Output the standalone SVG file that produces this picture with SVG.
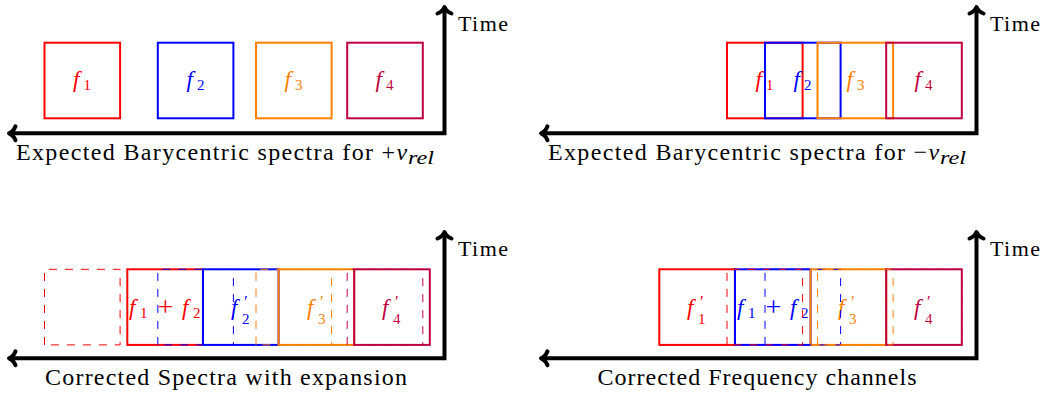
<svg xmlns="http://www.w3.org/2000/svg" width="1047" height="394" viewBox="0 0 1047 394" font-family="'Liberation Serif', 'DejaVu Serif', serif">
<defs>
<style>
.ax{fill:none;stroke:#000;stroke-width:4;stroke-linejoin:miter;marker-start:url(#tip);marker-end:url(#tip)}
.box{fill:none;stroke-width:2}
.dash{fill:none;stroke-width:1;stroke-dasharray:8 8}
.r{stroke:#ff0000}.b{stroke:#0000ff}.o{stroke:#ff8000}.p{stroke:#bf0040}
.tr{fill:#ff0000}.tb{fill:#0000ff}.to{fill:#ff8000}.tp{fill:#bf0040}
text{font-family:'Liberation Serif','DejaVu Serif',serif}
.cap{font-size:24px;fill:#000}
.time{font-size:22px;fill:#000}
.m{font-size:23px}
.i{font-style:italic}
.s{font-size:15px;font-style:normal}
.pr{font-size:17px;font-style:normal}
.pl{font-size:28px;font-style:normal}
.sub{font-size:18px;font-style:italic}
</style>
<marker id="tip" viewBox="-10 -10 12 20" refX="0" refY="0" markerWidth="12" markerHeight="20" markerUnits="userSpaceOnUse" orient="auto-start-reverse" overflow="visible">
<path d="M-6.5,-7 C-5,-3 -2,-0.8 0,0 C-2,0.8 -5,3 -6.5,7" fill="none" stroke="#000" stroke-width="4" stroke-linecap="round" stroke-linejoin="round"/>
</marker>
</defs>

<g id="connectors">
<path class="ax" d="M9,133.3 H444.5 V7"/>
<path class="ax" d="M541,133.3 H976.5 V7"/>
<path class="ax" d="M9,358.3 H444.5 V232"/>
<path class="ax" d="M541,358.3 H976.5 V232"/>
</g>

<!-- Panel 1 -->
<g id="p1-f1"><rect class="box r" x="44.5" y="42.7" width="75.6" height="75.6"/>
<text class="m tr"><tspan class="i" x="73" y="87">f</tspan><tspan class="s" x="83.5" y="90">1</tspan></text></g>
<g id="p1-f2"><rect class="box b" x="157.8" y="42.7" width="75.6" height="75.6"/>
<text class="m tb"><tspan class="i" x="186.5" y="87">f</tspan><tspan class="s" x="197" y="90">2</tspan></text></g>
<g id="p1-f3"><rect class="box o" x="256" y="42.7" width="75.6" height="75.6"/>
<text class="m to"><tspan class="i" x="284.5" y="87">f</tspan><tspan class="s" x="295" y="90">3</tspan></text></g>
<g id="p1-f4"><rect class="box p" x="347.2" y="42.7" width="75.6" height="75.6"/>
<text class="m tp"><tspan class="i" x="375.5" y="87">f</tspan><tspan class="s" x="386" y="90">4</tspan></text></g>
<g id="p1-labels">
<text class="time" x="458" y="30.5" textLength="50" lengthAdjust="spacing">Time</text>
<text class="cap"><tspan x="16" y="159.5" textLength="357" lengthAdjust="spacing">Expected Barycentric spectra for</tspan><tspan x="381.5" y="159.5">+</tspan><tspan class="i" x="396.5" y="159.5">v</tspan></text>
<text class="sub" x="408" y="163.5" textLength="26" lengthAdjust="spacingAndGlyphs">rel</text>
</g>

<!-- Panel 2 -->
<g id="p2-f1"><rect class="box r" x="727" y="42.7" width="75.6" height="75.6"/>
<text class="m tr"><tspan class="i" x="755.5" y="87">f</tspan><tspan class="s" x="766" y="90">1</tspan></text></g>
<g id="p2-f2"><rect class="box b" x="765" y="42.7" width="75.6" height="75.6"/>
<text class="m tb"><tspan class="i" x="793.5" y="87">f</tspan><tspan class="s" x="804" y="90">2</tspan></text></g>
<g id="p2-f3"><rect class="box o" x="817.5" y="42.7" width="75.6" height="75.6"/>
<text class="m to"><tspan class="i" x="846.5" y="87">f</tspan><tspan class="s" x="857" y="90">3</tspan></text></g>
<g id="p2-f4"><rect class="box p" x="886.2" y="42.7" width="75.6" height="75.6"/>
<text class="m tp"><tspan class="i" x="914.5" y="87">f</tspan><tspan class="s" x="925" y="90">4</tspan></text></g>
<g id="p2-labels">
<text class="time" x="990" y="30.5" textLength="50" lengthAdjust="spacing">Time</text>
<text class="cap"><tspan x="548" y="159.5" textLength="357" lengthAdjust="spacing">Expected Barycentric spectra for</tspan><tspan x="913.5" y="159.5">−</tspan><tspan class="i" x="928.5" y="159.5">v</tspan></text>
<text class="sub" x="940" y="163.5" textLength="26" lengthAdjust="spacingAndGlyphs">rel</text>
</g>

<!-- Panel 3 -->
<g id="p3-f12"><rect class="box r" x="127.3" y="269.3" width="75.6" height="75.6"/>
<text class="m tr"><tspan class="i" x="129" y="314.5">f</tspan><tspan class="s" x="140" y="317.5">1</tspan><tspan class="pl" x="157.5" y="315.5">+</tspan><tspan class="i" x="182" y="314.5">f</tspan><tspan class="s" x="193" y="317.5">2</tspan></text></g>
<g id="p3-f2p"><rect class="box b" x="203" y="269.3" width="75.6" height="75.6"/>
<text class="m tb"><tspan class="i" x="231" y="314.5">f</tspan><tspan class="pr" x="244" y="306.5">′</tspan><tspan class="s" x="242" y="323.5">2</tspan></text></g>
<g id="p3-f3p"><rect class="box o" x="278.6" y="269.3" width="75.6" height="75.6"/>
<text class="m to"><tspan class="i" x="307" y="314.5">f</tspan><tspan class="pr" x="320" y="306.5">′</tspan><tspan class="s" x="318" y="323.5">3</tspan></text></g>
<g id="p3-f4p"><rect class="box p" x="354.2" y="269.3" width="75.6" height="75.6"/>
<text class="m tp"><tspan class="i" x="382" y="314.5">f</tspan><tspan class="pr" x="395" y="306.5">′</tspan><tspan class="s" x="393" y="323.5">4</tspan></text></g>
<g id="p3-dashed">
<path class="dash r" d="M44.5,344.9 V269.3 H120.1 V344.9 Z"/>
<path class="dash b" d="M157.8,344.9 V269.3 H233.4 V344.9 Z"/>
<path class="dash o" d="M256,344.9 V269.3 H331.6 V344.9 Z"/>
<path class="dash p" d="M347.2,344.9 V269.3 H422.8 V344.9 Z"/>
</g>
<g id="p3-labels">
<text class="time" x="458" y="255.5" textLength="50" lengthAdjust="spacing">Time</text>
<text class="cap" x="45" y="385" textLength="362" lengthAdjust="spacing">Corrected Spectra with expansion</text>
</g>

<!-- Panel 4 -->
<g id="p4-f1p"><rect class="box r" x="659.3" y="269.3" width="75.6" height="75.6"/>
<text class="m tr"><tspan class="i" x="687" y="314.5">f</tspan><tspan class="pr" x="700" y="306.5">′</tspan><tspan class="s" x="698" y="323.5">1</tspan></text></g>
<g id="p4-f12"><rect class="box b" x="735" y="269.3" width="75.6" height="75.6"/>
<text class="m tb"><tspan class="i" x="737" y="314.5">f</tspan><tspan class="s" x="748" y="317.5">1</tspan><tspan class="pl" x="765.5" y="315.5">+</tspan><tspan class="i" x="790" y="314.5">f</tspan><tspan class="s" x="801" y="317.5">2</tspan></text></g>
<g id="p4-f3p"><rect class="box o" x="810.6" y="269.3" width="75.6" height="75.6"/>
<text class="m to"><tspan class="i" x="838" y="314.5">f</tspan><tspan class="pr" x="851" y="306.5">′</tspan><tspan class="s" x="849" y="323.5">3</tspan></text></g>
<g id="p4-f4p"><rect class="box p" x="886.2" y="269.3" width="75.6" height="75.6"/>
<text class="m tp"><tspan class="i" x="914" y="314.5">f</tspan><tspan class="pr" x="927" y="306.5">′</tspan><tspan class="s" x="925" y="323.5">4</tspan></text></g>
<g id="p4-dashed">
<path class="dash r" d="M727,344.9 V269.3 H802.6 V344.9 Z"/>
<path class="dash b" d="M765,344.9 V269.3 H840.6 V344.9 Z"/>
<path class="dash o" d="M817.5,344.9 V269.3 H893.1 V344.9 Z"/>
<path class="dash p" d="M886.2,344.9 V269.3 H961.8 V344.9 Z"/>
</g>
<g id="p4-labels">
<text class="time" x="990" y="255.5" textLength="50" lengthAdjust="spacing">Time</text>
<text class="cap" x="597.5" y="385" textLength="319" lengthAdjust="spacing">Corrected Frequency channels</text>
</g>
</svg>
